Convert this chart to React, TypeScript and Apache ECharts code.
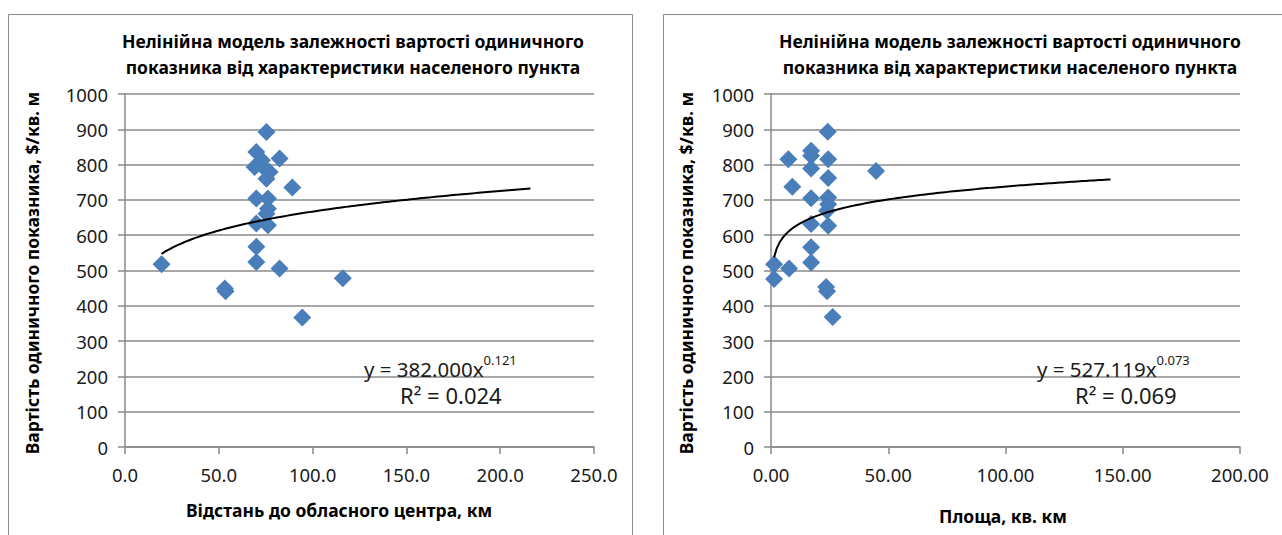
import React, { useEffect, useRef } from "react";
import * as echarts from "echarts";

const titleLines = [
  "Нелінійна модель залежності вартості одиничного",
  "показника від характеристики населеного пункта",
];
const yAxisName = "Вартість одиничного показника, $/кв. м";
const leftXName = "Відстань до обласного центра, км";
const rightXName = "Площа, кв. км";

// Left chart: distance to regional centre (km) vs price ($/sq.m)
const leftDistance = [75.4, 70.0, 73.0, 82.4, 69.1, 75.4, 77.1, 75.4, 89.2, 70.0, 76.2, 76.2, 75.4, 70.0, 76.2, 70.0, 70.0, 82.4, 19.5, 53.2, 53.6, 116.1, 94.5];
const leftPrice = [892, 836, 812, 817, 793, 784, 779, 760, 735, 704, 704, 675, 661, 633, 628, 567, 524, 506, 518, 449, 441, 478, 367];

// Right chart: area (sq. km) vs price ($/sq.m)
const rightArea = [24.2, 17.1, 17.1, 7.4, 24.4, 17.1, 44.8, 24.4, 9.1, 17.1, 24.4, 24.4, 23.9, 17.1, 24.4, 17.1, 17.1, 1.3, 7.7, 1.3, 23.5, 23.9, 26.3];
const rightPrice = [893, 839, 825, 815, 815, 789, 782, 762, 737, 705, 707, 688, 669, 632, 627, 566, 523, 518, 506, 476, 453, 441, 368];

// Power trend lines (y = a * x^b), as printed on the charts
const leftTrend = { a: 382.0, b: 0.121, aText: "382.000", bText: "0.121", r2Text: "0.024", forward: 100 };
const rightTrend = { a: 527.119, b: 0.073, aText: "527.119", bText: "0.073", r2Text: "0.069", forward: 100 };

const leftXTicks = { min: 0, max: 250, interval: 50, decimals: 1 };
const rightXTicks = { min: 0, max: 200, interval: 50, decimals: 2 };
const yTicks = { min: 0, max: 1000, interval: 100 };

function trendPoints(xs: number[], t: { a: number; b: number; forward: number }) {
  const x0 = Math.min(...xs);
  const x1 = Math.max(...xs) + t.forward;
  const pts: number[][] = [];
  const n = 120;
  for (let i = 0; i <= n; i++) {
    const x = x0 + ((x1 - x0) * i) / n;
    pts.push([x, t.a * Math.pow(x, t.b)]);
  }
  return pts;
}

const FONT = "'Noto Sans', 'Open Sans', sans-serif";
const GRID_COLOR = "#8a8a8a";
const TEXT_COLOR = "#1a1a1a";
const MARK_COLOR = "#4a7ebb";

export default function App() {
  const ref = useRef<HTMLDivElement>(null);

  useEffect(() => {
    if (!ref.current) return;
    const chart = echarts.init(ref.current, undefined, { renderer: "svg" });

    const yAxisBase = (gridIndex: number) => ({
      type: "value" as const,
      gridIndex,
      min: yTicks.min,
      max: yTicks.max,
      interval: yTicks.interval,
      axisLine: { show: true, lineStyle: { color: GRID_COLOR, width: 1.5 } },
      axisTick: { show: true, length: 7, lineStyle: { color: GRID_COLOR, width: 1.5 } },
      splitLine: { show: true, lineStyle: { color: GRID_COLOR, width: 1.5 } },
      axisLabel: {
        fontSize: 18.5,
        color: TEXT_COLOR,
        fontFamily: FONT,
        margin: 17,
        formatter: (v: number) => String(v),
      },
    });
    const xAxisBase = (gridIndex: number, t: typeof leftXTicks) => ({
      type: "value" as const,
      gridIndex,
      min: t.min,
      max: t.max,
      interval: t.interval,
      axisLine: { show: true, onZero: false, lineStyle: { color: GRID_COLOR, width: 1.5 } },
      axisTick: { show: true, length: 7, lineStyle: { color: GRID_COLOR, width: 1.5 } },
      splitLine: { show: false },
      axisLabel: {
        fontSize: 18.5,
        color: TEXT_COLOR,
        fontFamily: FONT,
        margin: 18,
        formatter: (v: number) => v.toFixed(t.decimals),
      },
    });

    const eqText = (x: number, y: number, t: typeof leftTrend) => ({
      type: "text",
      x,
      y,
      z: 10,
      style: {
        text: `{b|y = ${t.aText}x}{s|${t.bText}}`,
        align: "left",
        verticalAlign: "middle",
        fill: TEXT_COLOR,
        rich: {
          b: { fontSize: 20.5, fontFamily: FONT, fill: TEXT_COLOR, lineHeight: 26, verticalAlign: "bottom" },
          s: { fontSize: 13, fontFamily: FONT, fill: TEXT_COLOR, lineHeight: 14, verticalAlign: "top" },
        },
      },
    });
    const r2Text = (x: number, y: number, t: typeof leftTrend) => ({
      type: "text",
      x,
      y,
      z: 10,
      style: {
        text: `R² = ${t.r2Text}`,
        align: "left",
        verticalAlign: "middle",
        fontSize: 22,
        fontFamily: FONT,
        fill: TEXT_COLOR,
      },
    });
    const boldText = (x: number, y: number, text: string, rotation = 0, lineHeight = 26) => ({
      type: "text",
      x,
      y,
      rotation,
      z: 10,
      style: {
        text,
        align: "center",
        verticalAlign: "middle",
        fontSize: 17.5,
        fontWeight: "bold",
        lineHeight,
        fontFamily: FONT,
        fill: "#000",
      },
    });

    chart.setOption({
      animation: false,
      backgroundColor: "#ffffff",
      grid: [
        { left: 125, top: 94, width: 469, height: 353 },
        { left: 771, top: 94, width: 469, height: 353 },
      ],
      xAxis: [xAxisBase(0, leftXTicks), xAxisBase(1, rightXTicks)],
      yAxis: [yAxisBase(0), yAxisBase(1)],
      series: [
        {
          type: "scatter",
          xAxisIndex: 0,
          yAxisIndex: 0,
          symbol: "diamond",
          symbolSize: 18,
          itemStyle: { color: MARK_COLOR, opacity: 1 },
          data: leftDistance.map((x, i) => [x, leftPrice[i]]),
          z: 3,
        },
        {
          type: "line",
          xAxisIndex: 0,
          yAxisIndex: 0,
          showSymbol: false,
          symbol: "none",
          lineStyle: { color: "#000", width: 2 },
          data: trendPoints(leftDistance, leftTrend),
          z: 4,
        },
        {
          type: "scatter",
          xAxisIndex: 1,
          yAxisIndex: 1,
          symbol: "diamond",
          symbolSize: 18,
          itemStyle: { color: MARK_COLOR, opacity: 1 },
          data: rightArea.map((x, i) => [x, rightPrice[i]]),
          z: 3,
        },
        {
          type: "line",
          xAxisIndex: 1,
          yAxisIndex: 1,
          showSymbol: false,
          symbol: "none",
          lineStyle: { color: "#000", width: 2 },
          data: trendPoints(rightArea, rightTrend),
          z: 4,
        },
      ],
      graphic: [
        {
          type: "rect",
          shape: { x: 8.5, y: 14.5, width: 624, height: 540 },
          style: { fill: "none", stroke: "#8a8a8a", lineWidth: 1 },
          z: 0,
          silent: true,
        },
        {
          type: "rect",
          shape: { x: 663.5, y: 14.5, width: 640, height: 540 },
          style: { fill: "none", stroke: "#8a8a8a", lineWidth: 1 },
          z: 0,
          silent: true,
        },
        boldText(353, 54, titleLines.join("\n")),
        boldText(1010, 54, titleLines.join("\n")),
        boldText(32, 273, yAxisName, Math.PI / 2),
        boldText(686, 273, yAxisName, Math.PI / 2),
        boldText(339, 510, leftXName),
        boldText(1003, 516, rightXName),
        eqText(364, 366, leftTrend),
        r2Text(400, 395, leftTrend),
        eqText(1037, 366, rightTrend),
        r2Text(1075, 395, rightTrend),
      ],
    });

    return () => chart.dispose();
  }, []);

  return (
    <div
      ref={ref}
      style={{ position: "fixed", left: 0, top: 0, width: 1282, height: 535, background: "#fff" }}
    />
  );
}
